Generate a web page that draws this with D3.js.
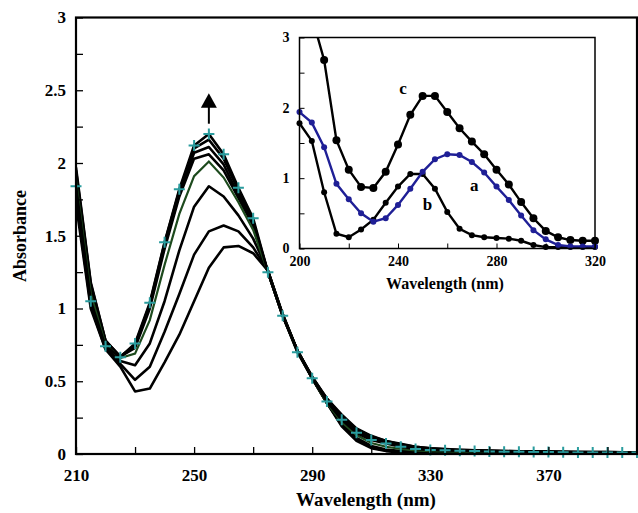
<!DOCTYPE html>
<html>
<head>
<meta charset="utf-8">
<script src="https://cdn.jsdelivr.net/npm/d3@7"></script>
<style>
  body { margin: 0; background: #fff; }
  svg { display: block; }
  text { font-family: "Liberation Serif", "Times New Roman", serif; font-weight: bold; fill: #000; }
</style>
</head>
<body>
<svg width="638" height="513"></svg>
<script>
'use strict';

// main chart: absorbance spectra recorded over time, wavelength 210-400 nm
var wavelengths = [210, 215, 220, 225, 230, 235, 240, 245, 250, 255, 260, 265, 270, 275, 280, 285, 290, 295, 300,
    305, 310, 315, 320, 325, 330, 335, 340, 345, 350, 355, 360, 365, 370, 375, 380, 385, 390, 395, 400];

var spectrum1 = [1.72, 1.00, 0.72, 0.60, 0.43, 0.45, 0.63, 0.82, 1.05, 1.28, 1.42, 1.43, 1.38, 1.26, 0.96, 0.71, 0.52, 0.35, 0.19,
    0.09, 0.04, 0.02, 0.01, 0.008, 0.006, 0.005, 0.005, 0.005, 0.005, 0.005, 0.005, 0.005, 0.005, 0.005, 0.005, 0.005, 0.005, 0.005, 0.005];
var spectrum2 = [1.76, 1.02, 0.72, 0.62, 0.51, 0.60, 0.84, 1.10, 1.37, 1.53, 1.57, 1.53, 1.42, 1.26, 0.96, 0.71, 0.52, 0.35, 0.20,
    0.10, 0.045, 0.025, 0.015, 0.01, 0.008, 0.007, 0.006, 0.006, 0.005, 0.005, 0.005, 0.005, 0.005, 0.005, 0.005, 0.005, 0.005, 0.005, 0.005];
var spectrum3 = [1.82, 1.05, 0.73, 0.64, 0.61, 0.76, 1.05, 1.40, 1.70, 1.84, 1.77, 1.64, 1.48, 1.26, 0.96, 0.71, 0.52, 0.35, 0.21,
    0.11, 0.055, 0.03, 0.02, 0.015, 0.012, 0.01, 0.01, 0.009, 0.008, 0.008, 0.007, 0.007, 0.006, 0.006, 0.006, 0.005, 0.005, 0.005, 0.005];
var spectrumGreen = [1.88, 1.10, 0.75, 0.66, 0.69, 0.92, 1.30, 1.65, 1.91, 2.01, 1.90, 1.73, 1.54, 1.25, 0.95, 0.70, 0.52, 0.35, 0.22,
    0.13, 0.075, 0.05, 0.035, 0.025, 0.02, 0.018, 0.016, 0.015, 0.014, 0.013, 0.012, 0.011, 0.01, 0.01, 0.009, 0.009, 0.008, 0.008, 0.008];
var spectrum5 = [1.92, 1.14, 0.77, 0.67, 0.73, 1.00, 1.41, 1.77, 2.03, 2.06, 1.95, 1.76, 1.57, 1.25, 0.95, 0.71, 0.53, 0.37, 0.25,
    0.16, 0.11, 0.08, 0.055, 0.04, 0.032, 0.028, 0.025, 0.022, 0.02, 0.018, 0.017, 0.016, 0.015, 0.014, 0.013, 0.012, 0.012, 0.011, 0.011];
var spectrum6 = [1.95, 1.17, 0.78, 0.67, 0.74, 1.02, 1.43, 1.79, 2.07, 2.11, 1.99, 1.78, 1.58, 1.25, 0.95, 0.71, 0.53, 0.38, 0.26,
    0.17, 0.12, 0.09, 0.065, 0.05, 0.04, 0.033, 0.028, 0.025, 0.022, 0.02, 0.018, 0.017, 0.016, 0.015, 0.014, 0.013, 0.013, 0.012, 0.012];
var spectrum7 = [1.97, 1.18, 0.78, 0.67, 0.75, 1.03, 1.45, 1.81, 2.10, 2.16, 2.03, 1.81, 1.60, 1.25, 0.95, 0.71, 0.53, 0.38, 0.27,
    0.175, 0.125, 0.09, 0.07, 0.05, 0.04, 0.034, 0.029, 0.026, 0.023, 0.021, 0.019, 0.018, 0.016, 0.015, 0.014, 0.013, 0.013, 0.012, 0.012];
var spectrumFinal = [1.84, 1.05, 0.74, 0.665, 0.76, 1.04, 1.455, 1.82, 2.12, 2.20, 2.06, 1.83, 1.62, 1.25, 0.95, 0.70, 0.52, 0.36, 0.235,
    0.146, 0.096, 0.073, 0.05, 0.035, 0.028, 0.025, 0.022, 0.02, 0.018, 0.016, 0.015, 0.014, 0.013, 0.012, 0.011, 0.011, 0.01, 0.01, 0.01];

var blackSpectra = [spectrum1, spectrum2, spectrum3, spectrum5, spectrum6, spectrum7];

var mainXTicks = [210, 230, 250, 270, 290, 310, 330, 350, 370, 390];
var mainXLabels = [210, 250, 290, 330, 370];
var mainYTicks = [0, 0.25, 0.5, 0.75, 1, 1.25, 1.5, 1.75, 2, 2.25, 2.5, 2.75, 3];
var mainYLabels = [0, 0.5, 1, 1.5, 2, 2.5, 3];

// inset: spectra a, b, c between 200 and 320 nm
var insetWavelengths = [200, 205, 210, 215, 220, 225, 230, 235, 240, 245, 250, 255, 260, 265, 270, 275, 280, 285, 290,
    295, 300, 305, 310, 315, 320];
var insetA = [1.94, 1.79, 1.44, 0.92, 0.70, 0.50, 0.38, 0.43, 0.62, 0.85, 1.09, 1.27, 1.34, 1.33, 1.23, 1.08, 0.88, 0.69, 0.47,
    0.26, 0.13, 0.05, 0.03, 0.03, 0.03];
var insetB = [1.78, 1.53, 0.80, 0.21, 0.16, 0.27, 0.41, 0.65, 0.88, 1.06, 1.06, 0.85, 0.52, 0.28, 0.19, 0.16, 0.15, 0.14, 0.11,
    0.05, 0.02, 0.02, 0.02, 0.02, 0.02];
var insetC = [null, 3.3, 2.68, 1.54, 1.12, 0.876, 0.86, 1.09, 1.48, 1.90, 2.17, 2.17, 1.94, 1.71, 1.52, 1.34, 1.12, 0.91, 0.66,
    0.43, 0.25, 0.16, 0.12, 0.11, 0.11];

var insetXTicks = [200, 220, 240, 260, 280, 300, 320];
var insetXLabels = [200, 240, 280, 320];
var insetYTicks = [0, 0.5, 1, 1.5, 2, 2.5, 3];
var insetYLabels = [0, 1, 2, 3];

var svg = d3.select("svg");

/*
 * MAIN PLOT
 */
var x = d3.scaleLinear().domain([210, 400]).range([76, 637]);
var y = d3.scaleLinear().domain([0, 3]).range([454, 17.5]);

function toPoints(values) {
    return values.map(function (v, i) {
        return {wl: wavelengths[i], a: v};
    });
}

var line = d3.line()
    .x(function (d) { return x(d.wl); })
    .y(function (d) { return y(d.a); });

svg.append("defs").append("clipPath")
    .attr("id", "mainClip")
    .append("rect")
    .attr("x", 76).attr("y", 17.5)
    .attr("width", 561).attr("height", 436.5);

var plot = svg.append("g").attr("clip-path", "url(#mainClip)");

plot.selectAll(".spectrum")
    .data(blackSpectra)
    .enter()
    .append("path")
    .attr("class", "spectrum")
    .attr("d", function (d) { return line(toPoints(d)); })
    .attr("fill", "none")
    .attr("stroke", "#000")
    .attr("stroke-width", 2.6)
    .attr("stroke-linejoin", "round");

plot.append("path")
    .attr("d", line(toPoints(spectrumGreen)))
    .attr("fill", "none")
    .attr("stroke", "#1d4a1d")
    .attr("stroke-width", 2.2);

plot.append("path")
    .attr("d", line(toPoints(spectrumFinal)))
    .attr("fill", "none")
    .attr("stroke", "#000")
    .attr("stroke-width", 2.6)
    .attr("stroke-linejoin", "round");

svg.selectAll(".cross")
    .data(toPoints(spectrumFinal))
    .enter()
    .append("path")
    .attr("class", "cross")
    .attr("transform", function (d) { return "translate(" + x(d.wl) + "," + y(d.a) + ")"; })
    .attr("d", "M-5.5,0H5.5M0,-5.5V5.5")
    .attr("stroke", "#2a9c9e")
    .attr("stroke-width", 2);

// arrow over the peak
var arrowX = x(255);
svg.append("line")
    .attr("x1", arrowX).attr("x2", arrowX)
    .attr("y1", y(2.27)).attr("y2", y(2.39))
    .attr("stroke", "#000").attr("stroke-width", 2);
svg.append("path")
    .attr("d", "M" + arrowX + "," + y(2.48) + "L" + (arrowX - 8) + "," + y(2.38) + "L" + (arrowX + 8) + "," + y(2.38) + "Z")
    .attr("fill", "#000");

// axes
var xAxis = d3.axisBottom(x)
    .tickValues(mainXTicks)
    .tickSizeInner(-7)
    .tickSizeOuter(0)
    .tickPadding(15)
    .tickFormat(function (d) { return mainXLabels.indexOf(d) >= 0 ? d : ""; });

var yAxis = d3.axisLeft(y)
    .tickValues(mainYTicks)
    .tickSizeInner(-7)
    .tickSizeOuter(0)
    .tickPadding(10)
    .tickFormat(function (d) { return mainYLabels.indexOf(d) >= 0 ? d : ""; });

var gx = svg.append("g").attr("transform", "translate(0,454)").call(xAxis);
var gy = svg.append("g").attr("transform", "translate(76,0)").call(yAxis);

[gx, gy].forEach(function (g) {
    g.select(".domain").remove();
    g.selectAll(".tick line").attr("stroke", "#000").attr("stroke-width", 1.3);
    g.selectAll(".tick text")
        .style("font-family", "'Liberation Serif', serif")
        .style("font-weight", "bold")
        .style("font-size", "17px")
        .attr("fill", "#000");
});

svg.append("rect")
    .attr("x", 76).attr("y", 17.5)
    .attr("width", 561).attr("height", 436.5)
    .attr("fill", "none")
    .attr("stroke", "#000")
    .attr("stroke-width", 2.2);

svg.append("text")
    .attr("x", 366).attr("y", 506)
    .attr("text-anchor", "middle")
    .style("font-size", "19px")
    .text("Wavelength (nm)");

svg.append("text")
    .attr("transform", "translate(26,236) rotate(-90)")
    .attr("text-anchor", "middle")
    .style("font-size", "18px")
    .text("Absorbance");

/*
 * INSET
 */
var ix = d3.scaleLinear().domain([200, 320]).range([299.5, 595]);
var iy = d3.scaleLinear().domain([0, 3]).range([248.5, 37.5]);

svg.append("rect")
    .attr("x", 299.5).attr("y", 37.5)
    .attr("width", 295.5).attr("height", 211)
    .attr("fill", "#fff");

svg.select("defs").append("clipPath")
    .attr("id", "insetClip")
    .append("rect")
    .attr("x", 299.5).attr("y", 37.5)
    .attr("width", 295.5).attr("height", 211);

var insetLine = d3.line()
    .defined(function (d) { return d.a !== null; })
    .x(function (d) { return ix(d.wl); })
    .y(function (d) { return iy(d.a); });

function insetPoints(values) {
    return values.map(function (v, i) {
        return {wl: insetWavelengths[i], a: v};
    });
}

var insetSeries = [
    {name: "c", values: insetC, color: "#000", r: 4},
    {name: "b", values: insetB, color: "#000", r: 3},
    {name: "a", values: insetA, color: "#1f1f96", r: 3}
];

var inset = svg.append("g");

insetSeries.forEach(function (s) {
    inset.append("path")
        .attr("clip-path", "url(#insetClip)")
        .attr("d", insetLine(insetPoints(s.values)))
        .attr("fill", "none")
        .attr("stroke", s.color)
        .attr("stroke-width", 2.4);

    inset.selectAll(".dot-" + s.name)
        .data(insetPoints(s.values).filter(function (d) { return d.a !== null && d.a <= 3; }))
        .enter()
        .append("circle")
        .attr("class", "dot-" + s.name)
        .attr("cx", function (d) { return ix(d.wl); })
        .attr("cy", function (d) { return iy(d.a); })
        .attr("r", s.r)
        .attr("fill", s.color);
});

var ixAxis = d3.axisBottom(ix)
    .tickValues(insetXTicks)
    .tickSizeInner(-5)
    .tickSizeOuter(0)
    .tickPadding(8)
    .tickFormat(function (d) { return insetXLabels.indexOf(d) >= 0 ? d : ""; });

var iyAxis = d3.axisLeft(iy)
    .tickValues(insetYTicks)
    .tickSizeInner(-5)
    .tickSizeOuter(0)
    .tickPadding(10)
    .tickFormat(function (d) { return insetYLabels.indexOf(d) >= 0 ? d : ""; });

var gix = svg.append("g").attr("transform", "translate(0,248.5)").call(ixAxis);
var giy = svg.append("g").attr("transform", "translate(299.5,0)").call(iyAxis);

[gix, giy].forEach(function (g) {
    g.select(".domain").remove();
    g.selectAll(".tick line").attr("stroke", "#000").attr("stroke-width", 1);
    g.selectAll(".tick text")
        .style("font-family", "'Liberation Serif', serif")
        .style("font-weight", "bold")
        .style("font-size", "14px")
        .attr("fill", "#000");
});

svg.append("rect")
    .attr("x", 299.5).attr("y", 37.5)
    .attr("width", 295.5).attr("height", 211)
    .attr("fill", "none")
    .attr("stroke", "#000")
    .attr("stroke-width", 1.5);

svg.append("text")
    .attr("x", 445).attr("y", 289)
    .attr("text-anchor", "middle")
    .style("font-size", "16px")
    .text("Wavelength (nm)");

// curve labels
var curveLabels = [
    {text: "c", wl: 242, a: 2.2},
    {text: "a", wl: 271, a: 0.82},
    {text: "b", wl: 252, a: 0.55}
];

svg.selectAll(".curve-label")
    .data(curveLabels)
    .enter()
    .append("text")
    .attr("class", "curve-label")
    .attr("x", function (d) { return ix(d.wl); })
    .attr("y", function (d) { return iy(d.a); })
    .attr("text-anchor", "middle")
    .style("font-size", "17px")
    .text(function (d) { return d.text; });
</script>
</body>
</html>
